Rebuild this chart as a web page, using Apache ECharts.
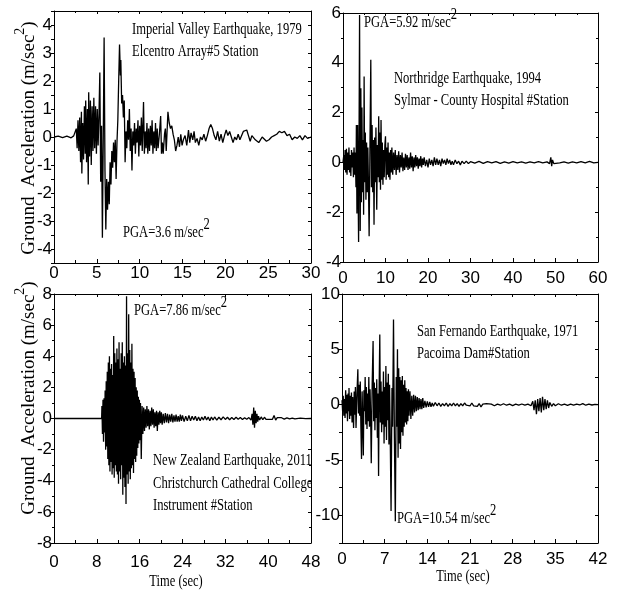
<!DOCTYPE html>
<html>
<head>
<meta charset="utf-8">
<script src="https://cdn.jsdelivr.net/npm/echarts@6/dist/echarts.min.js"></script>
<style>
  html, body { margin: 0; padding: 0; background: #fff; }
  #chart1 { width: 621px; height: 594px; }
</style>
</head>
<body>
<div id="chart1"></div>
<script>
// ground acceleration records, [time (s), acceleration (m/s^2)]
const imperialValley = [
  [0,0],[0.5,0.03],[1,-0.02],[1.5,0.03],[2,-0.03],[2.3,0.04],[2.5,0],[2.6,0.3],[2.7,-0.4],[2.8,0.6],[2.9,-0.5],
  [3.0,0.7],[3.1,-0.9],[3.2,0.9],[3.25,-1.3],[3.35,0.5],[3.45,-0.8],[3.55,1.1],[3.65,-0.6],[3.7,1.3],[3.8,-0.9],
  [3.9,1.0],[4.0,-1.7],[4.05,1.6],[4.15,-0.7],[4.25,1.3],[4.35,-1.0],[4.45,1.1],[4.55,-0.5],[4.65,1.4],[4.75,-0.4],
  [4.85,1.1],[4.95,-0.6],[5.05,1.0],[5.15,-0.3],[5.25,0.8],[5.35,2.3],[5.45,-1.6],[5.55,0.4],[5.65,-3.6],[5.85,3.55],
  [5.95,-1.2],[6.05,-3.3],[6.15,-1.5],[6.25,-2.6],[6.35,-1.6],[6.45,-2.4],[6.55,-0.9],[6.65,-1.7],[6.75,-0.5],
  [6.85,-1.1],[6.95,-0.2],[7.05,-0.9],[7.15,-0.1],[7.25,-1.5],[7.35,-0.2],[7.45,0.6],[7.55,2.0],[7.65,3.3],[7.75,2.2],
  [7.8,2.75],[7.9,1.2],[8.0,1.5],[8.1,0.7],[8.2,1.3],[8.3,-0.9],[8.4,0.2],[8.5,-0.4],[8.6,0.6],[8.7,-0.1],[8.8,1.0],
  [8.9,-0.5],[9.0,0.3],[9.1,-1.2],[9.2,0.2],[9.3,-0.3],[9.4,0.5],[9.5,-0.6],[9.6,0.3],[9.7,-0.2],[9.8,0.6],[9.9,-0.7],
  [10.0,0.4],[10.1,-0.3],[10.2,0.7],[10.3,-0.5],[10.45,1.25],[10.55,-0.6],[10.65,0.2],[10.75,-0.4],[10.85,0.5],
  [10.95,-0.6],[11.05,0.3],[11.15,-0.5],[11.25,0.4],[11.35,-0.3],[11.45,0.6],[11.55,-0.6],[11.65,0.2],[11.75,-0.4],
  [11.85,0.5],[11.95,-0.5],[12.05,0.3],[12.15,-0.4],[12.3,0.1],[12.45,0.75],[12.55,-0.6],[12.65,-0.2],[12.75,-0.6],
  [12.9,0.1],[13.0,0.3],[13.1,-0.5],[13.3,0.9],[13.45,0.5],[13.6,0.3],[13.75,0.4],[13.9,0.1],[14.05,-0.1],[14.2,-0.5],
  [14.35,-0.3],[14.5,0.0],[14.65,-0.35],[14.8,0.1],[14.95,-0.3],[15.1,-0.1],[15.3,0.05],[15.5,-0.3],[15.7,0.25],
  [15.85,-0.2],[16.0,0.15],[16.2,-0.1],[16.35,0.2],[16.5,-0.2],[16.7,-0.05],[16.9,-0.3],[17.1,0.0],[17.3,-0.1],
  [17.5,0.1],[17.7,-0.15],[17.9,0.05],[18.1,0.3],[18.3,0.45],[18.5,0.3],[18.7,0.05],[18.9,-0.1],[19.1,0.2],[19.3,-0.15],
  [19.5,0.1],[19.7,-0.2],[19.9,0.05],[20.1,0.25],[20.3,0.05],[20.5,0.2],[20.7,0.0],[20.9,-0.2],[21.1,0.0],[21.3,-0.1],
  [21.5,0.1],[21.7,-0.1],[21.9,-0.05],[22.1,0.2],[22.3,0.15],[22.5,0.25],[22.7,0.05],[22.9,-0.15],[23.1,0.05],
  [23.3,0.0],[23.5,-0.1],[23.7,-0.05],[23.9,-0.2],[24.1,-0.1],[24.3,0.0],[24.5,-0.05],[24.8,-0.15],[25.1,-0.1],
  [25.4,0.0],[25.7,0.05],[26.0,0.1],[26.3,0.2],[26.6,0.15],[26.9,0.2],[27.2,0.05],[27.5,0.1],[27.8,-0.1],[28.1,0.0],
  [28.4,-0.05],[28.7,0.05],[29.0,-0.1],[29.3,0.05],[29.6,-0.05],[30.0,0.0]
];

const northridge = [
  [0,0],[0.2,0.3],[0.35,-0.3],[0.5,0.5],[0.65,-0.4],[0.8,0.55],[0.95,-0.5],[1.1,0.4],[1.25,-0.3],[1.4,0.6],
  [1.55,-0.4],[1.7,0.3],[1.85,-0.55],[2.0,0.5],[2.15,-0.2],[2.3,0.4],[2.45,-0.6],[2.6,0.6],[2.75,-0.5],[2.9,0.4],
  [3.05,-1.0],[3.15,1.5],[3.28,-2.05],[3.43,1.5],[3.55,-1.0],[3.67,-3.2],[3.9,5.92],[4.05,-2.75],[4.2,2.98],
  [4.32,-1.6],[4.45,2.2],[4.6,-1.2],[4.75,0.9],[4.85,-2.1],[4.97,3.45],[5.1,-0.8],[5.25,1.2],[5.4,-1.5],[5.55,0.8],
  [5.7,-1.2],[5.85,0.6],[6.0,-1.0],[6.15,-2.97],[6.35,0.8],[6.54,4.12],[6.7,-1.0],[6.85,1.5],[7.0,-1.2],[7.15,0.9],
  [7.3,-2.5],[7.45,1.0],[7.6,-0.8],[7.75,1.4],[7.94,-1.9],[8.1,0.7],[8.25,-0.6],[8.4,1.85],[8.55,-0.8],[8.7,1.2],
  [8.82,-1.1],[8.95,1.7],[9.1,-0.7],[9.25,0.8],[9.4,-0.9],[9.55,0.5],[9.7,-0.6],[9.85,0.7],[10.0,1.05],[10.15,-0.7],
  [10.3,0.6],[10.45,-0.5],[10.6,0.8],[10.75,-0.6],[10.9,0.4],[11.05,-0.7],[11.2,0.5],[11.35,-0.4],[11.5,0.6],
  [11.7,-0.5],[11.9,0.4],[12.1,-0.3],[12.3,0.5],[12.5,-0.5],[12.7,0.3],[12.9,-0.3],[13.1,0.45],[13.3,-0.4],[13.5,0.3],
  [13.7,-0.2],[13.9,0.4],[14.1,-0.35],[14.3,0.2],[14.5,-0.3],[14.7,0.35],[14.9,-0.2],[15.1,0.3],[15.3,-0.3],[15.5,0.2],
  [15.7,-0.25],[15.9,0.4],[16.1,-0.2],[16.3,0.25],[16.5,-0.35],[16.7,0.2],[16.9,-0.2],[17.1,0.3],[17.3,-0.15],
  [17.5,0.2],[17.7,-0.25],[17.9,0.15],[18.1,-0.15],[18.3,0.25],[18.5,-0.2],[18.7,0.15],[18.9,-0.1],[19.1,0.2],
  [19.4,-0.15],[19.7,0.1],[20.0,-0.2],[20.3,0.15],[20.6,-0.1],[20.9,0.1],[21.2,-0.15],[21.5,0.2],[21.8,-0.1],
  [22.1,0.15],[22.4,-0.1],[22.7,0.1],[23.0,-0.15],[23.3,0.15],[23.6,-0.05],[23.9,0.1],[24.2,-0.1],[24.5,0.15],
  [24.8,-0.05],[25.1,0.1],[25.4,-0.1],[25.7,0.05],[26,-0.1],[26.4,0.1],[26.8,-0.05],[27.2,0.05],[27.6,-0.1],[28,0.05],
  [28.5,-0.05],[29,0.05],[29.5,-0.05],[30,0.03],[31,-0.03],[32,0.04],[33,-0.04],[34,0.03],[35,-0.02],[36,0.03],
  [37,-0.04],[38,0.02],[39,-0.03],[40,0.03],[41,-0.02],[42,0.02],[43,-0.03],[44,0.02],[45,-0.02],[46,0.03],[47,-0.02],
  [48,0.02],[48.6,-0.05],[48.9,0.2],[49.1,-0.15],[49.3,0.1],[49.6,-0.05],[50,0.03],[51,-0.02],[52,0.02],[53,-0.03],
  [54,0.02],[55,-0.02],[56,0.03],[57,-0.02],[58,0.04],[59,-0.02],[60,0.0]
];

const newZealand = [
  [0,0],[4,0],[8.9,0],[8.95,0.8],[9.05,-1.0],[9.15,1.2],[9.25,-1.5],[9.35,1.3],[9.45,-0.9],[9.55,1.8],[9.65,-2.0],
  [9.75,2.4],[9.85,-1.8],[9.95,3.0],[10.05,-2.6],[10.15,3.6],[10.25,-3.0],[10.35,4.0],[10.45,-3.4],[10.55,3.2],
  [10.65,-2.8],[10.75,3.5],[10.85,-3.6],[10.95,2.8],[11.05,-3.2],[11.15,5.3],[11.25,-3.8],[11.35,4.2],[11.45,-3.0],
  [11.55,3.6],[11.65,-3.4],[11.75,4.5],[11.85,-3.6],[11.95,3.8],[12.05,-4.2],[12.15,4.9],[12.25,-3.4],[12.35,3.2],
  [12.45,-3.9],[12.55,4.2],[12.65,-3.0],[12.75,4.9],[12.85,-4.9],[12.95,3.6],[13.05,-3.8],[13.15,4.0],[13.25,-4.4],
  [13.35,3.4],[13.45,-5.5],[13.55,7.86],[13.65,-3.6],[13.75,4.2],[13.85,-4.2],[13.95,6.7],[14.05,-3.4],[14.15,4.4],
  [14.25,-3.9],[14.35,3.6],[14.45,-3.2],[14.55,4.8],[14.65,-3.0],[14.75,3.2],[14.85,-3.5],[14.95,3.0],[15.05,-2.6],
  [15.15,2.6],[15.25,-2.8],[15.35,2.0],[15.45,-2.4],[15.55,1.8],[15.65,-1.9],[15.75,1.4],[15.85,-1.6],[15.95,1.2],
  [16.05,-1.4],[16.15,1.0],[16.3,-2.6],[16.45,0.8],[16.6,-1.0],[16.75,0.7],[16.9,-0.8],[17.05,0.6],[17.2,-0.6],
  [17.35,0.8],[17.5,-0.5],[17.65,0.6],[17.8,-0.7],[17.95,0.5],[18.1,-0.5],[18.25,0.7],[18.4,-0.4],[18.55,0.6],
  [18.7,-0.6],[18.85,0.4],[19.0,-0.5],[19.15,0.5],[19.3,-0.8],[19.45,0.4],[19.6,-0.4],[19.75,0.5],[19.9,-0.3],
  [20.05,0.4],[20.2,-0.4],[20.4,0.3],[20.6,-0.3],[20.8,0.35],[21.0,-0.25],[21.2,0.3],[21.4,-0.3],[21.6,0.25],
  [21.8,-0.2],[22.0,0.3],[22.2,-0.25],[22.4,0.2],[22.6,-0.2],[22.8,0.25],[23.0,-0.2],[23.2,0.15],[23.4,-0.2],
  [23.6,0.25],[23.8,-0.15],[24.0,0.2],[24.3,-0.2],[24.6,0.15],[24.9,-0.15],[25.2,0.2],[25.5,-0.15],[25.8,0.15],
  [26.1,-0.1],[26.4,0.15],[26.7,-0.15],[27.0,0.1],[27.3,-0.15],[27.6,0.1],[27.9,-0.1],[28.2,0.15],[28.5,-0.1],
  [28.8,0.1],[29.1,-0.15],[29.4,0.1],[29.7,-0.1],[30.0,0.1],[30.4,-0.1],[30.8,0.08],[31.2,-0.08],[31.6,0.1],
  [32.0,-0.06],[32.4,0.08],[32.8,-0.08],[33.2,0.06],[33.6,-0.06],[34.0,0.08],[34.4,-0.05],[34.8,0.06],[35.2,-0.06],
  [35.6,0.05],[36.0,-0.05],[36.4,0.06],[36.8,-0.1],[37.0,0.3],[37.15,-0.4],[37.3,0.7],[37.45,-0.6],[37.6,0.5],
  [37.75,-0.3],[37.9,0.3],[38.05,-0.2],[38.2,0.15],[38.4,-0.1],[38.7,0.1],[39.0,-0.08],[39.3,0.08],[39.6,-0.06],
  [39.9,0.06],[40.2,-0.05],[40.5,0.06],[40.8,-0.05],[41.1,0.2],[41.4,-0.1],[41.7,0.05],[42.0,-0.05],[42.5,0.05],
  [43,-0.04],[43.5,0.04],[44,-0.03],[44.5,0.03],[45,-0.02],[46,0.02],[47,-0.01],[48,0]
];

const sanFernando = [
  [0,0.4],[0.1,-0.6],[0.2,0.8],[0.3,-1.0],[0.4,0.5],[0.5,-1.2],[0.6,1.3],[0.7,-0.8],[0.8,0.9],[0.9,-1.5],[1.0,1.0],
  [1.1,-0.6],[1.15,1.5],[1.25,-1.3],[1.35,0.8],[1.45,-1.0],[1.55,1.1],[1.65,-1.6],[1.75,0.7],[1.9,-2.1],[2.0,1.2],
  [2.1,-0.9],[2.2,1.6],[2.3,-2.1],[2.45,0.9],[2.6,3.2],[2.7,-0.8],[2.8,1.8],[2.9,-1.0],[3.0,2.1],[3.1,-2.0],
  [3.2,-4.9],[3.3,1.2],[3.4,-1.5],[3.5,-4.6],[3.6,1.3],[3.7,-0.6],[3.8,2.5],[3.9,-1.8],[4.0,1.6],[4.1,-2.2],[4.2,1.0],
  [4.3,-1.5],[4.4,2.5],[4.5,-2.0],[4.6,1.4],[4.7,-1.0],[4.8,-5.3],[4.95,1.8],[5.1,5.75],[5.2,-1.5],[5.3,2.0],
  [5.4,-2.3],[5.5,1.5],[5.6,-1.2],[5.7,2.3],[5.8,-3.0],[5.9,1.0],[6.0,-6.45],[6.1,1.8],[6.2,6.35],[6.3,-1.6],
  [6.4,2.1],[6.5,-2.5],[6.6,1.2],[6.7,-1.8],[6.8,3.0],[6.9,-3.5],[7.0,1.6],[7.1,-2.0],[7.2,3.5],[7.3,-3.2],[7.4,2.0],
  [7.5,-1.4],[7.6,2.8],[7.7,-3.6],[7.8,1.8],[7.9,-2.2],[8.05,-9.6],[8.2,1.5],[8.3,-2.0],[8.45,7.7],[8.6,-3.0],
  [8.75,-10.54],[8.9,2.5],[9.0,-2.0],[9.1,5.0],[9.2,-4.8],[9.3,3.3],[9.4,-3.5],[9.5,2.5],[9.6,-4.0],[9.7,2.2],
  [9.8,-2.5],[9.9,2.6],[10.0,-2.8],[10.1,1.8],[10.2,-2.0],[10.3,2.2],[10.4,-1.6],[10.5,1.5],[10.6,-1.8],[10.7,1.2],
  [10.8,-1.5],[10.9,1.4],[11.0,-1.0],[11.15,1.2],[11.3,-1.3],[11.45,0.8],[11.6,-1.0],[11.75,0.9],[11.9,-0.7],
  [12.05,0.8],[12.2,-0.6],[12.35,0.7],[12.5,-0.5],[12.65,0.6],[12.8,-0.4],[12.95,0.5],[13.1,-0.4],[13.25,0.6],
  [13.4,-0.3],[13.6,0.35],[13.8,-0.25],[14.0,0.3],[14.2,-0.2],[14.4,0.25],[14.6,-0.2],[14.8,0.15],[15.0,-0.15],
  [15.3,0.2],[15.6,-0.1],[15.9,0.15],[16.2,-0.15],[16.5,0.1],[16.8,-0.1],[17.1,0.15],[17.4,-0.15],[17.7,0.1],
  [18.0,-0.1],[18.3,0.15],[18.6,-0.1],[18.9,0.1],[19.2,-0.15],[19.5,0.1],[19.8,-0.1],[20.1,0.15],[20.4,-0.05],
  [20.7,0.1],[21.0,-0.1],[21.3,0.15],[21.6,-0.1],[21.9,0.05],[22.2,-0.15],[22.5,0.1],[22.8,-0.2],[23.1,0.05],
  [23.4,-0.1],[23.7,0.1],[24.0,-0.05],[24.5,0.05],[25.0,-0.1],[25.5,0.05],[26.0,-0.05],[26.5,0.08],[27.0,-0.05],
  [27.5,0.05],[28.0,-0.08],[28.5,0.05],[29.0,-0.05],[29.5,0.06],[30.0,-0.05],[30.5,0.05],[31.0,-0.1],[31.3,0.3],
  [31.5,-0.5],[31.7,0.4],[31.9,-0.85],[32.1,0.5],[32.3,-0.6],[32.5,0.6],[32.7,-0.7],[32.9,0.7],[33.1,-0.5],
  [33.3,0.5],[33.5,-0.4],[33.7,0.4],[33.9,-0.3],[34.1,0.2],[34.4,-0.15],[34.7,0.1],[35.0,-0.1],[35.5,0.08],[36,-0.05],
  [36.5,0.05],[37,-0.06],[37.5,0.05],[38,-0.04],[38.5,0.05],[39,-0.03],[39.5,0.1],[40,-0.05],[40.5,0.04],[41,-0.03],
  [41.5,0.02],[42,0]
];

// axis ranges: [min, max, interval]
const xRanges = [[0, 30, 5], [0, 60, 10], [0, 48, 8], [0, 42, 7]];
const yRanges = [[-4.5, 4.5, 0.5], [-4, 6, 2], [-8, 8, 2], [-12.5, 10, 2.5]];
const yLabelStep = [1, 2, 2, 5];

const serif = '"Liberation Serif", "Times New Roman", serif';
const sans = '"Liberation Sans Narrow", "Liberation Sans", Arial, sans-serif';

const grids = [
  { left: 54, top: 11, width: 257, height: 252 },
  { left: 343, top: 13, width: 255, height: 249 },
  { left: 54, top: 294, width: 257, height: 249 },
  { left: 342, top: 294, width: 256, height: 249 }
];
const xLabelMargin = [2, 8, 11, 8];

const blackLine = { show: true, onZero: false, lineStyle: { color: '#000', width: 1 } };

const makeAxes = () => {
  const xAxis = [];
  const yAxis = [];
  grids.forEach((g, i) => {
    const [xmin, xmax, xint] = xRanges[i];
    const [ymin, ymax, yint] = yRanges[i];
    const base = { type: 'value', gridIndex: i, splitLine: { show: false }, axisLine: blackLine };
    xAxis.push(Object.assign({}, base, {
      min: xmin, max: xmax, interval: xint, position: 'bottom',
      axisTick: { show: true, inside: true, length: 4, lineStyle: { color: '#000' } },
      minorTick: { show: true, splitNumber: 2, length: 3, lineStyle: { color: '#000' } },
      axisLabel: { color: '#000', fontSize: 17, fontFamily: sans, margin: xLabelMargin[i] }
    }));
    xAxis.push(Object.assign({}, base, {
      min: xmin, max: xmax, interval: xint, position: 'top',
      axisTick: { show: true, inside: true, length: 3, lineStyle: { color: '#000' } },
      minorTick: { show: true, splitNumber: 2, length: 2, lineStyle: { color: '#000' } },
      axisLabel: { show: false }
    }));
    yAxis.push(Object.assign({}, base, {
      min: ymin, max: ymax, interval: yint, position: 'left',
      axisTick: { show: true, inside: false, length: 3, lineStyle: { color: '#000' } },
      minorTick: { show: yint === 2, splitNumber: 2, length: 2, lineStyle: { color: '#000' } },
      axisLabel: {
        color: '#000', fontSize: 17, fontFamily: sans, margin: 2,
        formatter: v => (Math.abs(v % yLabelStep[i]) < 1e-9 ? String(v) : '')
      }
    }));
    yAxis.push(Object.assign({}, base, {
      min: ymin, max: ymax, interval: yint, position: 'right',
      axisTick: { show: true, inside: true, length: 3, lineStyle: { color: '#000' } },
      minorTick: { show: yint === 2, splitNumber: 2, length: 2, lineStyle: { color: '#000' } },
      axisLabel: { show: false }
    }));
  });
  return { xAxis, yAxis };
};

const note = (x, y, text, size, scale) => ({
  type: 'text', x: x, y: y, scaleX: scale, silent: true,
  style: { text: text, fill: '#000', fontSize: size, fontFamily: serif, align: 'left', verticalAlign: 'middle' }
});

const pgaNote = (x, y, value) => ({
  type: 'text', x: x, y: y - 4, scaleX: 0.74, silent: true,
  style: {
    text: '{a|PGA=' + value + ' m/sec}{s|2}',
    fill: '#000', align: 'left', verticalAlign: 'middle',
    rich: {
      a: { fontSize: 17, fontFamily: serif, fill: '#000', lineHeight: 25, verticalAlign: 'bottom' },
      s: { fontSize: 17, fontFamily: serif, fill: '#000', lineHeight: 17, verticalAlign: 'top' }
    }
  }
});

const yTitle = (x, y) => ({
  type: 'text', x: x, y: y, rotation: Math.PI / 2, silent: true,
  style: {
    text: '{a|Ground  Acceleration (m/sec}{s|2}{a|)}',
    fill: '#000', align: 'center', verticalAlign: 'middle',
    rich: {
      a: { fontSize: 19, fontFamily: serif, fill: '#000', lineHeight: 26, verticalAlign: 'bottom' },
      s: { fontSize: 14, fontFamily: serif, fill: '#000', lineHeight: 14, verticalAlign: 'top' }
    }
  }
});

const xTitle = (x, y) => ({
  type: 'text', x: x, y: y, scaleX: 0.78, silent: true,
  style: { text: 'Time (sec)', fill: '#000', fontSize: 16, fontFamily: serif, align: 'center', verticalAlign: 'middle' }
});

const getOptionChart1 = () => {
  const axes = makeAxes();
  const records = [imperialValley, northridge, newZealand, sanFernando];
  return {
    backgroundColor: '#fff',
    animation: false,
    grid: grids,
    xAxis: axes.xAxis,
    yAxis: axes.yAxis,
    series: records.map((rec, i) => ({
      type: 'line',
      xAxisIndex: i * 2,
      yAxisIndex: i * 2,
      data: rec,
      showSymbol: false,
      symbol: 'none',
      sampling: null,
      lineStyle: { color: '#000', width: 1.3 }
    })),
    graphic: [
      note(132, 30, 'Imperial Valley Earthquake, 1979', 17, 0.74),
      note(132, 52, 'Elcentro Array#5 Station', 17, 0.74),
      pgaNote(123, 233, '3.6'),
      pgaNote(364, 23, '5.92'),
      note(394, 79, 'Northridge Earthquake, 1994', 17, 0.74),
      note(394, 101, 'Sylmar - County Hospital #Station', 17, 0.74),
      pgaNote(134, 311, '7.86'),
      note(153, 461, 'New Zealand Earthquake, 2011', 17, 0.74),
      note(153, 484, 'Christchurch Cathedral College', 17, 0.74),
      note(153, 506, 'Instrument #Station', 17, 0.74),
      note(417, 332, 'San Fernando Earthquake, 1971', 17, 0.74),
      note(417, 354, 'Pacoima Dam#Station', 17, 0.74),
      pgaNote(397, 519, '10.54'),
      yTitle(26, 138),
      yTitle(26, 398),
      xTitle(176, 582),
      xTitle(463, 577)
    ]
  };
};

const initChart = () => {
  const chart1 = echarts.init(document.getElementById('chart1'), null, { renderer: 'canvas' });
  chart1.setOption(getOptionChart1());
};

window.addEventListener('load', function() {
  initChart();
});
</script>
</body>
</html>
